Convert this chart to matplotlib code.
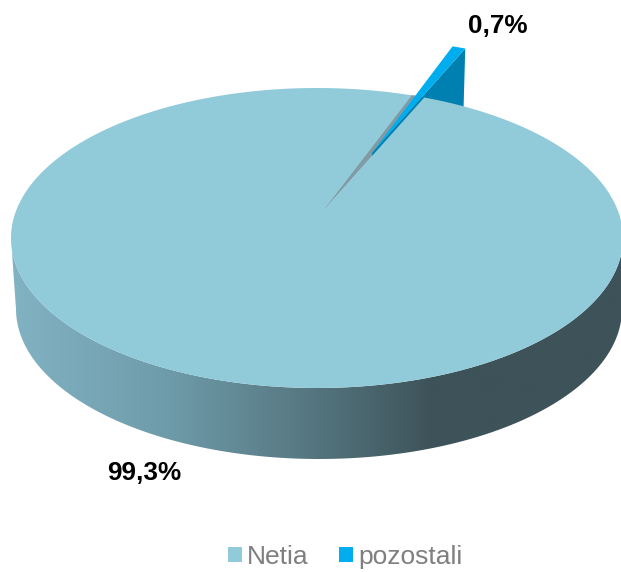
import numpy as np
import matplotlib
matplotlib.use("Agg")
import matplotlib.pyplot as plt
from matplotlib.colors import LinearSegmentedColormap
from matplotlib.patches import Patch, Polygon

plt.rcParams['font.family'] = ['Liberation Sans', 'DejaVu Sans']

labels = ['Netia', 'pozostali']
values = [99.3, 0.7]
colors = ['#91cbda', '#00aeef']

# pie geometry in pixels, the pie is tilted so the apex is not the ellipse centre
cx, cy, a, b = 317, 238, 306, 150
cx2, cy2, a2, b2 = 319, 309, 303, 150
apex = np.array([322, 212])
offset = np.array([41, -49])
start = 18


def rim(t, c_x=cx, c_y=cy, r_x=a, r_y=b):
    t = np.radians(t)
    return np.column_stack([c_x + r_x * np.sin(t), c_y - r_y * np.cos(t)])


fig = plt.figure(figsize=(6.21, 5.72), dpi=100)
ax = fig.add_axes([0, 0, 1, 1])
ax.set_xlim(0, 621)
ax.set_ylim(572, 0)
ax.axis('off')

sweep = np.array(values) / sum(values) * 360
small_end = start + sweep[1]

# front wall with the gradient
top_front = rim(np.linspace(90, 270, 200))
bottom_front = rim(np.linspace(270, 90, 200), cx2, cy2, a2, b2)
wall = Polygon(np.vstack([top_front, bottom_front]), closed=True, fc='none', ec='none')
ax.add_patch(wall)
cmap = LinearSegmentedColormap.from_list('wall', [(0, '#82b3c3'), (0.25, '#6f9cab'),
                                                  (0.47, '#587a84'), (0.69, '#3d5359'), (1, '#3d5359')])
img = ax.imshow(np.linspace(0, 1, 256).reshape(1, -1), cmap=cmap, extent=[11, 621, 572, 0],
                aspect='auto', zorder=1)
img.set_clip_path(wall)

# notch in the big slice
notch_pts = np.vstack([apex, rim(np.array([start, small_end]))])
ax.add_patch(Polygon(notch_pts, closed=True, fc='#7f9ba5', ec='#7f9ba5', lw=0.4, zorder=2))

# exploded small slice, cut face then top
arc = rim(np.linspace(start, small_end, 10)) + offset
outer = arc[-1]
tip = apex + offset + (outer - apex - offset) * 0.09
side = np.array([outer, outer + [-2, 70], tip + [0, 70], tip])
ax.add_patch(Polygon(side, closed=True, fc='#0080b0', ec='none', zorder=3))
ax.add_patch(Polygon(np.vstack([tip, arc]), closed=True, fc=colors[1], ec='none', zorder=4))

# big slice top
big_arc = rim(np.linspace(small_end, start + 360, 720))
ax.add_patch(Polygon(np.vstack([apex, big_arc]), closed=True, fc=colors[0], ec='none', zorder=5))

ax.set_xlim(0, 621)
ax.set_ylim(572, 0)

fmt = [f"{v:.1f}".replace('.', ',') + '%' for v in values]
ax.text(144, 473, fmt[0], ha='center', va='center', fontsize=18.8, fontweight='bold', color='black', zorder=6)
ax.text(498, 26, fmt[1], ha='center', va='center', fontsize=18.8, fontweight='bold', color='black', zorder=6)

handles = [Patch(fc=c, ec='none') for c in colors]
ax.legend(handles, labels, loc='center', bbox_to_anchor=(345 / 621, 1 - 557 / 572), ncol=2, frameon=False,
          fontsize=19, labelcolor='#7f7f7f', handlelength=0.53, handleheight=0.53,
          handletextpad=0.2, columnspacing=1.15, borderpad=0, borderaxespad=0)

fig.savefig('out.png', dpi=100)
